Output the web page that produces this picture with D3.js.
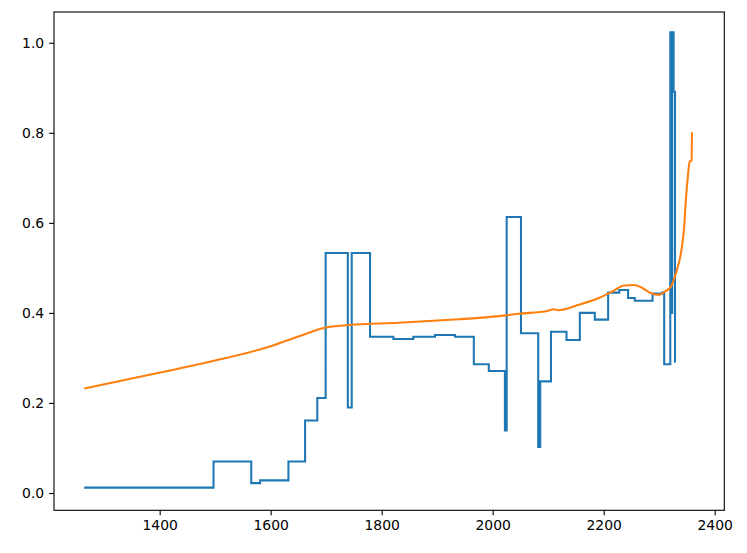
<!DOCTYPE html>
<html>
<head>
<meta charset="utf-8">
<script src="https://cdn.jsdelivr.net/npm/d3@7"></script>
<style>
  html, body { margin: 0; padding: 0; background: #fff; }
  svg { display: block; }
  text { font-family: "DejaVu Sans", sans-serif; font-size: 13.9px; fill: #000; }
</style>
</head>
<body>
<svg id="chart" width="747" height="553"></svg>
<script>
// Step series (blue): x positions and values (step after)
const stepX = [
  1264, 1497, 1565, 1581, 1632, 1662, 1684, 1699, 1739, 1746,
  1779, 1821, 1857, 1896, 1932, 1966, 1993,
  2022, 2022.8, 2023.4, 2024, 2024.6, 2025.2,
  2051, 2082, 2082.8, 2083.5, 2084.3, 2085, 2085.7,
  2105, 2133, 2157, 2184, 2208, 2228, 2244, 2256, 2288, 2306,
  2309, 2320, 2321, 2321.8, 2322.6, 2323.4, 2326, 2328.5, 2329];
const stepY = [
  0.012, 0.070, 0.022, 0.028, 0.070, 0.161, 0.211, 0.533, 0.190, 0.533,
  0.347, 0.342, 0.347, 0.351, 0.347, 0.286, 0.271,
  0.139, 0.271, 0.139, 0.271, 0.139, 0.613,
  0.355, 0.102, 0.248, 0.102, 0.248, 0.102, 0.248,
  0.358, 0.340, 0.400, 0.385, 0.445, 0.451, 0.433, 0.427, 0.443, 0.446,
  0.286, 1.023, 0.400, 1.023, 0.400, 1.023, 0.891, 0.291, 0.291];

// Smooth series (orange)
const smoothX = [1264, 1399, 1496, 1600, 1651, 1698, 1741, 1831, 1939, 1975, 2020, 2047, 2100, 2110, 2118, 2155, 2191, 2215,
  2237, 2255, 2269, 2285, 2300, 2312, 2321, 2330, 2340, 2345, 2348, 2351, 2355, 2358.5, 2359];
const smoothY = [0.232, 0.267, 0.293, 0.326, 0.348, 0.367, 0.373, 0.378, 0.386, 0.389, 0.394, 0.398, 0.405, 0.408, 0.406, 0.418, 0.433, 0.447,
  0.461, 0.462, 0.456, 0.444, 0.440, 0.449, 0.458, 0.488, 0.539, 0.591, 0.650, 0.695, 0.736, 0.739, 0.801];

const xTicks = [1400, 1600, 1800, 2000, 2200, 2400];
const yTicks = [0.0, 0.2, 0.4, 0.6, 0.8, 1.0];

const svg = d3.select("#chart");
const L = 54, R = 724.3, T = 12, B = 510.3;

const x = d3.scaleLinear().domain([1209.6, 2417.3]).range([L, R]);
const y = d3.scaleLinear().domain([-0.0384, 1.0683]).range([B, T]);

const clipId = "plotclip";
svg.append("clipPath").attr("id", clipId).append("rect")
  .attr("x", L).attr("y", T).attr("width", R - L).attr("height", B - T);

const g = svg.append("g").attr("clip-path", `url(#${clipId})`);

const stepData = stepX.map((d, i) => [d, stepY[i]]);
const smoothData = smoothX.map((d, i) => [d, smoothY[i]]);

g.append("path")
  .datum(stepData)
  .attr("fill", "none")
  .attr("stroke", "#1f77b4")
  .attr("stroke-width", 2.08)
  .attr("stroke-linejoin", "miter")
  .attr("d", d3.line().x(d => x(d[0])).y(d => y(d[1])).curve(d3.curveStepAfter));

g.append("path")
  .datum(smoothData)
  .attr("fill", "none")
  .attr("stroke", "#ff7f0e")
  .attr("stroke-width", 2.08)
  .attr("stroke-linejoin", "round")
  .attr("d", d3.line().x(d => x(d[0])).y(d => y(d[1])).curve(d3.curveMonotoneX));

// Axes
const xAxis = d3.axisBottom(x).tickValues(xTicks).tickFormat(d3.format("d")).tickSize(4.9).tickPadding(4.9);
const yAxis = d3.axisLeft(y).tickValues(yTicks).tickFormat(d3.format(".1f")).tickSize(4.9).tickPadding(4.9);

const gx = svg.append("g").attr("transform", `translate(0,${B})`).call(xAxis);
const gy = svg.append("g").attr("transform", `translate(${L},0)`).call(yAxis);
[gx, gy].forEach(a => {
  a.select(".domain").remove();
  a.selectAll(".tick line").attr("stroke", "#000").attr("stroke-width", 1.1);
  a.selectAll(".tick text").attr("fill", "#000").style("font-family", "DejaVu Sans, sans-serif").style("font-size", "13.9px");
});

// Frame
svg.append("rect")
  .attr("x", L).attr("y", T).attr("width", R - L).attr("height", B - T)
  .attr("fill", "none").attr("stroke", "#000").attr("stroke-width", 1.1);
</script>
</body>
</html>
